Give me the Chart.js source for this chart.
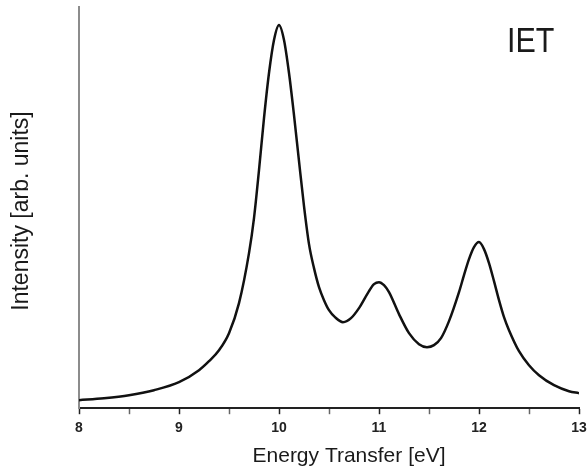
<!DOCTYPE html>
<html>
<head>
<meta charset="utf-8">
<script src="https://cdn.jsdelivr.net/npm/chart.js@4/dist/chart.umd.min.js"></script>
<style>
  html, body { margin: 0; padding: 0; background: #fff; }
  #wrap { width: 588px; height: 472px; }
</style>
</head>
<body>
<div id="wrap"><canvas id="chart"></canvas></div>
<script>
// energy transfer (eV) and intensity (arb. units) of the IET spectrum
var energy = [
    8.0, 8.25, 8.5, 8.75, 9.0, 9.2, 9.3, 9.4, 9.5, 9.6, 9.7, 9.75, 9.8, 9.85, 9.9, 9.95,
    10.0, 10.05, 10.1, 10.15, 10.2, 10.25, 10.3, 10.35, 10.4, 10.45, 10.5, 10.56, 10.64,
    10.72, 10.8, 10.9, 10.95, 11.0, 11.05, 11.1, 11.2, 11.3, 11.4, 11.48, 11.55, 11.62,
    11.7, 11.8, 11.85, 11.9, 11.95, 12.0, 12.05, 12.1, 12.15, 12.2, 12.25, 12.3, 12.4,
    12.5, 12.6, 12.75, 12.9, 13.0
];
var intensity = [
    8, 10, 13, 18, 26, 38, 47, 58, 75, 105, 155, 190, 238, 290, 335, 368,
    383, 368, 335, 293, 247, 202, 164, 140, 121, 108, 98, 91, 86,
    90, 100, 117, 124, 126, 123, 116, 94, 75, 64, 61, 63, 70,
    87, 116, 133, 149, 161, 166, 159, 145, 127, 108, 91, 78, 57,
    43, 33, 23, 17, 15
];
var xTicks = [8, 9, 10, 11, 12, 13];

var sans = '"Liberation Sans", Arial, sans-serif';

// axis titles and the panel tag
var labelsPlugin = {
    id: 'labels',
    afterDraw: function (chart) {
        var ctx = chart.ctx;
        ctx.save();
        ctx.fillStyle = '#1a1a1a';
        ctx.textBaseline = 'alphabetic';

        ctx.textAlign = 'center';
        ctx.font = '21px ' + sans;
        ctx.fillText('Energy Transfer [eV]', 349, 462);

        ctx.save();
        ctx.translate(28, 211);
        ctx.rotate(-Math.PI / 2);
        ctx.font = '23px ' + sans;
        ctx.fillText('Intensity [arb. units]', 0, 0);
        ctx.restore();

        ctx.save();
        ctx.translate(507, 52);
        ctx.scale(0.87, 1);
        ctx.textAlign = 'left';
        ctx.font = '35px ' + sans;
        ctx.fillText('IET', 0, 0);
        ctx.restore();

        ctx.restore();
    }
};

new Chart(document.getElementById('chart'), {
    type: 'line',
    data: {
        datasets: [{
            data: energy.map(function (e, i) { return {x: e, y: intensity[i]}; }),
            borderColor: '#111',
            borderWidth: 2.5,
            pointRadius: 0,
            cubicInterpolationMode: 'monotone',
            fill: false
        }]
    },
    options: {
        responsive: true,
        maintainAspectRatio: false,
        animation: false,
        layout: {padding: {top: 7, right: 9, left: 79, bottom: 29}},
        plugins: {legend: {display: false}, tooltip: {enabled: false}},
        scales: {
            x: {
                type: 'linear',
                min: 8,
                max: 13,
                // let the "13" label hang into the right margin
                afterFit: function (scale) {
                    scale.paddingRight = 0;
                },
                ticks: {
                    stepSize: 0.5,
                    padding: 6,
                    color: '#222',
                    font: {family: sans, size: 14, weight: 'bold'},
                    callback: function (v) {
                        return xTicks.indexOf(v) >= 0 ? String(v) : '';
                    }
                },
                grid: {
                    drawOnChartArea: false,
                    tickLength: 6,
                    tickColor: function (c) {
                        return xTicks.indexOf(c.tick && c.tick.value) >= 0 ? '#222' : '#666';
                    },
                    tickWidth: 1.5
                },
                border: {color: '#222', width: 2}
            },
            y: {
                min: 0,
                max: 401,
                ticks: {display: false},
                grid: {display: false, drawTicks: false},
                border: {color: '#8c8c8c', width: 2}
            }
        }
    },
    plugins: [labelsPlugin]
});
</script>
</body>
</html>
